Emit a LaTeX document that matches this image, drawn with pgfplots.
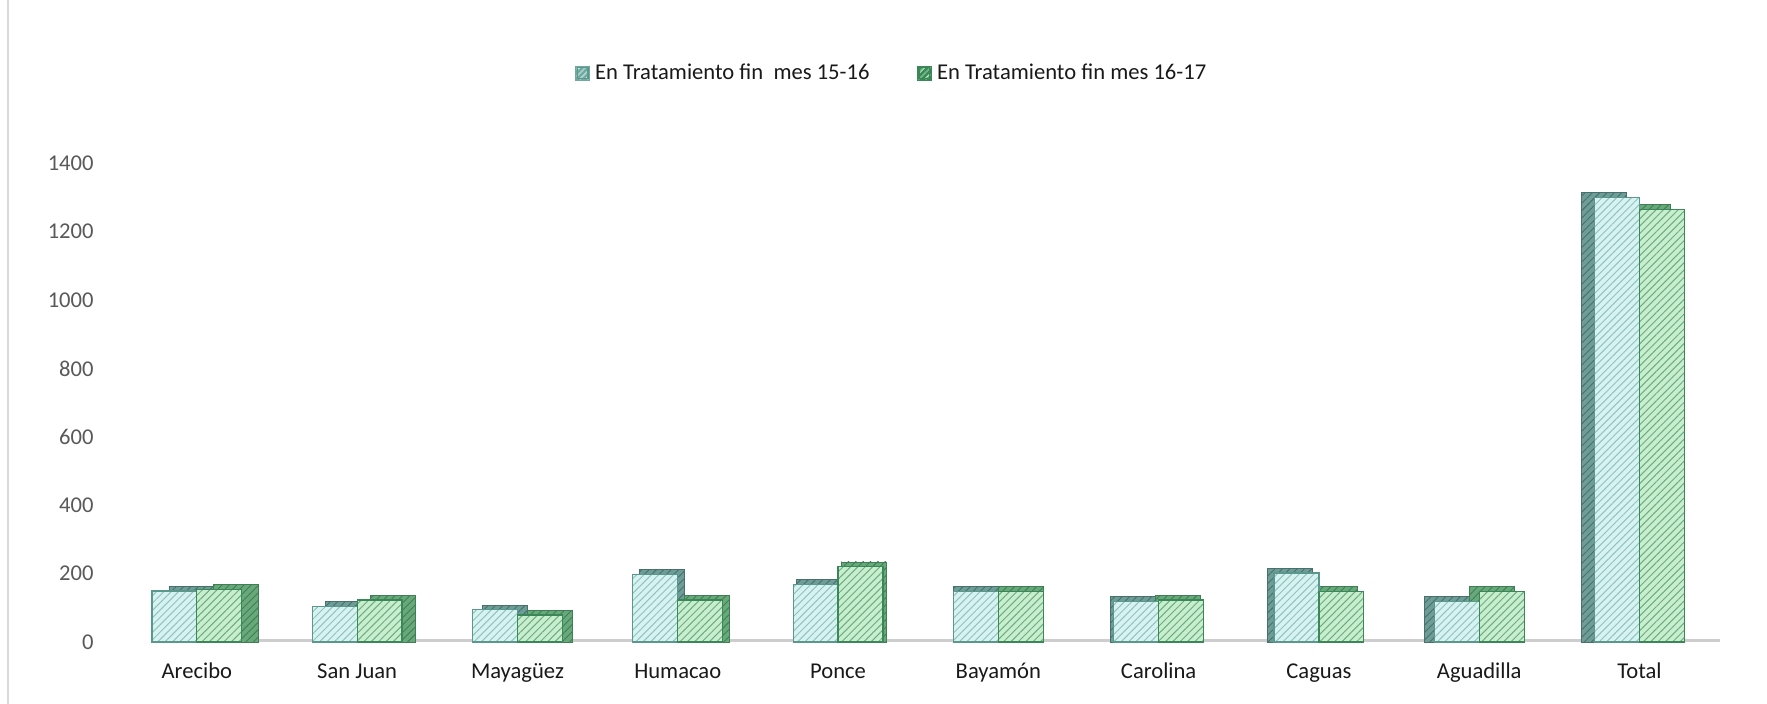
\documentclass[border=0pt]{standalone}
\usepackage{fontspec}
\setmainfont{Carlito}
\usepackage{pgfplots}
\pgfplotsset{compat=1.18}
\usepackage{pgfplotstable}
\usetikzlibrary{patterns.meta}
\definecolor{s1face}{RGB}{216,242,241}
\definecolor{s1hatch}{RGB}{140,196,192}
\definecolor{s1edge}{RGB}{90,152,142}
\definecolor{s1depth}{RGB}{110,156,150}
\definecolor{s1dhatch}{RGB}{72,112,108}
\definecolor{s2face}{RGB}{202,237,208}
\definecolor{s2hatch}{RGB}{102,176,124}
\definecolor{s2edge}{RGB}{58,135,88}
\definecolor{s2depth}{RGB}{104,168,122}
\definecolor{s2dhatch}{RGB}{62,128,84}
\definecolor{floorc}{RGB}{205,205,205}
\definecolor{ticktext}{RGB}{89,89,89}
\definecolor{labtext}{RGB}{25,25,25}
\definecolor{bordc}{RGB}{217,217,217}

\pgfplotstableread{
x a b
0 149 153
1 104 123
2 94 79
3 197 123
4 168 220
5 148 148
6 119 123
7 202 148
8 119 148
9 1300 1265
}\data

\begin{document}
\begin{tikzpicture}
\path[use as bounding box] (0,0) rectangle (883.5pt,352pt);
\draw[bordc, line width=1pt] (4.2pt,0) -- (4.2pt,352pt);
\begin{axis}[
  at={(58.35pt,31pt)}, anchor=south west,
  scale only axis, width=801.5pt, height=239.35pt,
  xmin=-0.5, xmax=9.5, ymin=0, ymax=1400,
  axis line style={draw=none},
  major tick length=0pt,
  xtick={0,...,9},
  xticklabels={Arecibo, San Juan, Mayagüez, Humacao, Ponce, Bayamón, Carolina, Caguas, Aguadilla, Total},
  ytick={0,200,...,1400},
  /pgf/number format/assume math mode=true,
  /pgf/number format/1000 sep={},
  yticklabel style={font=\fontsize{11.3}{13}\selectfont, text=ticktext, anchor=east, inner sep=0pt, xshift=-11.35pt},
  xticklabel style={font=\fontsize{11.3}{13}\selectfont, text=labtext, anchor=base, inner sep=0pt, yshift=-18.5pt},
  clip=false,
  ybar, bar width=0.28,
  legend columns=2,
  legend style={at={(0.2859,1.188)}, anchor=west, draw=none, fill=none, inner sep=0pt, outer sep=0pt,
    font=\fontsize{11.3}{13}\selectfont, text=labtext, nodes={inner sep=0pt},
    /tikz/every odd column/.style={column sep=2.5pt},
    /tikz/every even column/.style={column sep=23.65pt}},
]
\draw[floorc, line width=1.6pt] (axis cs:-0.5,0) ++(0,0.6pt) -- ([yshift=0.6pt]axis cs:9.5,0);
\pgfplotsinvokeforeach{0,...,9}{
  \addplot[forget plot, fill=s1depth, draw=s1dhatch, line width=0.4pt, bar shift=-0.14,
    xshift={1.7pt*(5-#1)}, restrict x to domain=#1:#1,
    postaction={pattern={Lines[angle=45,distance=2.6pt,line width=0.45pt]}, pattern color=s1dhatch}]
    table[x=x,y expr=\thisrow{a}+14]{\data};
  \addplot[forget plot, fill=s2depth, draw=s2dhatch, line width=0.4pt, bar shift=0.14,
    xshift={1.7pt*(5-#1)}, restrict x to domain=#1:#1,
    postaction={pattern={Lines[angle=45,distance=2.6pt,line width=0.45pt]}, pattern color=s2dhatch}]
    table[x=x,y expr=\thisrow{b}+14]{\data};
}
\addplot[fill=s1face, draw=s1edge, line width=0.6pt, bar shift=-0.14,
  postaction={pattern={Lines[angle=45,distance=2.6pt,line width=0.5pt]}, pattern color=s1hatch},
  legend image code/.code={\fill[s1edge!85] (0pt,-3.5pt) rectangle (7pt,3.5pt);
    \fill[pattern={Lines[angle=45,distance=2pt,line width=0.5pt]}, pattern color=s1face] (0.8pt,-2.7pt) rectangle (6.2pt,2.7pt);}]
  table[x=x,y=a]{\data};
\addlegendentry{En Tratamiento fin\ \ mes 15-16}
\addplot[fill=s2face, draw=s2edge, line width=0.6pt, bar shift=0.14,
  postaction={pattern={Lines[angle=45,distance=2.6pt,line width=0.5pt]}, pattern color=s2hatch},
  legend image code/.code={\fill[s2edge] (0pt,-3.5pt) rectangle (7pt,3.5pt);
    \fill[pattern={Lines[angle=45,distance=2pt,line width=0.5pt]}, pattern color=s2face] (0.8pt,-2.7pt) rectangle (6.2pt,2.7pt);}]
  table[x=x,y=b]{\data};
\addlegendentry{En Tratamiento fin mes 16-17}
\end{axis}
\end{tikzpicture}
\end{document}
